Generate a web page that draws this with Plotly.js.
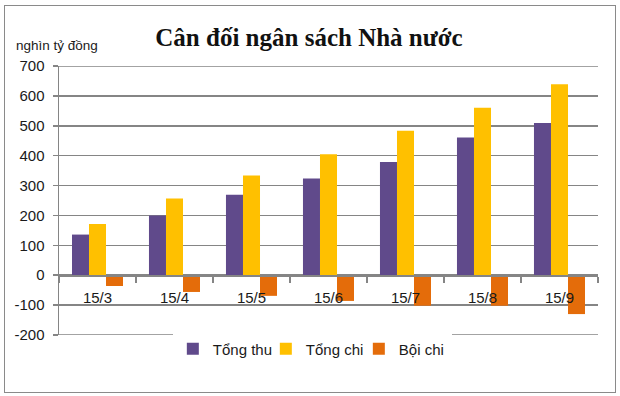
<!DOCTYPE html>
<html>
<head>
<meta charset="utf-8">
<script src="https://cdn.plot.ly/plotly-3.0.1.min.js"></script>
<style>
  html, body { margin: 0; padding: 0; background: #ffffff; }
  #wrap { position: relative; width: 620px; height: 396px; }
  #chart { position: absolute; left: 0; top: 0; width: 620px; height: 396px; }
  #frame { position: absolute; left: 4px; top: 5px; width: 610px; height: 386px;
           border: 1px solid #8a8a8a; pointer-events: none; }
</style>
</head>
<body>
<div id="wrap">
  <div id="chart"></div>
  <div id="frame"></div>
</div>
<script>
// Data
const categories = ["15/3", "15/4", "15/5", "15/6", "15/7", "15/8", "15/9"];
const tongThu = [136, 200, 269, 324, 379, 461, 509];
const tongChi = [171, 257, 334, 405, 483, 560, 639];
const boiChi = [-36, -56, -69, -86, -102, -102, -130];
const seriesNames = ["Tổng thu", "Tổng chi", "Bội chi"];
const yTicks = [-200, -100, 0, 100, 200, 300, 400, 500, 600, 700];

const colors = ["#604A8B", "#FFC000", "#E46C0A"];
const gridColor = "#858585";
const tickFont = { family: "Liberation Sans, Arial, sans-serif", size: 15, color: "#1a1a1a" };

const traces = [tongThu, tongChi, boiChi].map((vals, i) => ({
  type: "bar",
  x: categories,
  y: vals,
  name: seriesNames[i],
  marker: { color: colors[i], line: { width: 0 } },
  hoverinfo: "none"
}));

const yMin = yTicks[0], yMax = yTicks[yTicks.length - 1];
const zeroFrac = (0 - yMin) / (yMax - yMin);

const layout = {
  width: 620,
  height: 396,
  margin: { l: 59, r: 22, t: 66, b: 61 },
  paper_bgcolor: "#ffffff",
  plot_bgcolor: "#ffffff",
  barmode: "group",
  bargap: 0.337,
  bargroupgap: 0,
  showlegend: true,
  legend: {
    orientation: "h",
    x: 0.47, xanchor: "center",
    y: -0.052, yanchor: "middle",
    font: { family: "Liberation Sans, Arial, sans-serif", size: 15, color: "#1a1a1a" },
    itemwidth: 30,
    entrywidth: 48,
    entrywidthmode: "pixels",
    traceorder: "normal"
  },
  title: {
    text: "<b>Cân đối ngân sách Nhà nước</b>",
    font: { family: "Liberation Serif, Times New Roman, serif", size: 25, color: "#111111" },
    x: 309 / 620, xref: "container", xanchor: "center",
    y: 1 - 37 / 396, yref: "container", yanchor: "middle"
  },
  xaxis: {
    type: "category",
    range: [-0.5, categories.length - 0.5],
    anchor: "free",
    position: zeroFrac,
    showline: true,
    linecolor: gridColor,
    linewidth: 1.5,
    ticks: "outside",
    tickson: "boundaries",
    ticklen: 6,
    tickcolor: gridColor,
    tickwidth: 1.5,
    showgrid: false,
    zeroline: false,
    tickfont: tickFont,
    ticklabelstandoff: 8,
    fixedrange: true
  },
  yaxis: {
    range: [yMin, yMax],
    tickvals: yTicks,
    ticktext: yTicks.map(String),
    showgrid: true,
    gridcolor: gridColor,
    gridwidth: 1.5,
    zeroline: false,
    showline: true,
    linecolor: gridColor,
    linewidth: 1.5,
    ticks: "outside",
    ticklen: 5,
    tickcolor: gridColor,
    tickwidth: 1.5,
    tickfont: tickFont,
    ticklabelstandoff: 5,
    fixedrange: true
  },
  shapes: [
    // bottom gridline (hidden by Plotly at the plot edge)
    { type: "line", xref: "paper", x0: 0, x1: 1, yref: "y", y0: yMin, y1: yMin,
      line: { color: gridColor, width: 1.5 }, layer: "below" },
    // top gridline
    { type: "line", xref: "paper", x0: 0, x1: 1, yref: "y", y0: yMax, y1: yMax,
      line: { color: gridColor, width: 1.5 }, layer: "below" }
  ],
  annotations: [{
    text: "nghìn tỷ đồng",
    xref: "paper", yref: "paper",
    x: (14 - 59) / 539, xanchor: "left",
    y: 1 + (66 - 45) / 269, yanchor: "middle",
    showarrow: false,
    font: { family: "Liberation Sans, Arial, sans-serif", size: 13.5, color: "#1a1a1a" }
  }]
};

Plotly.newPlot("chart", traces, layout, { displayModeBar: false, staticPlot: true });
</script>
</body>
</html>
